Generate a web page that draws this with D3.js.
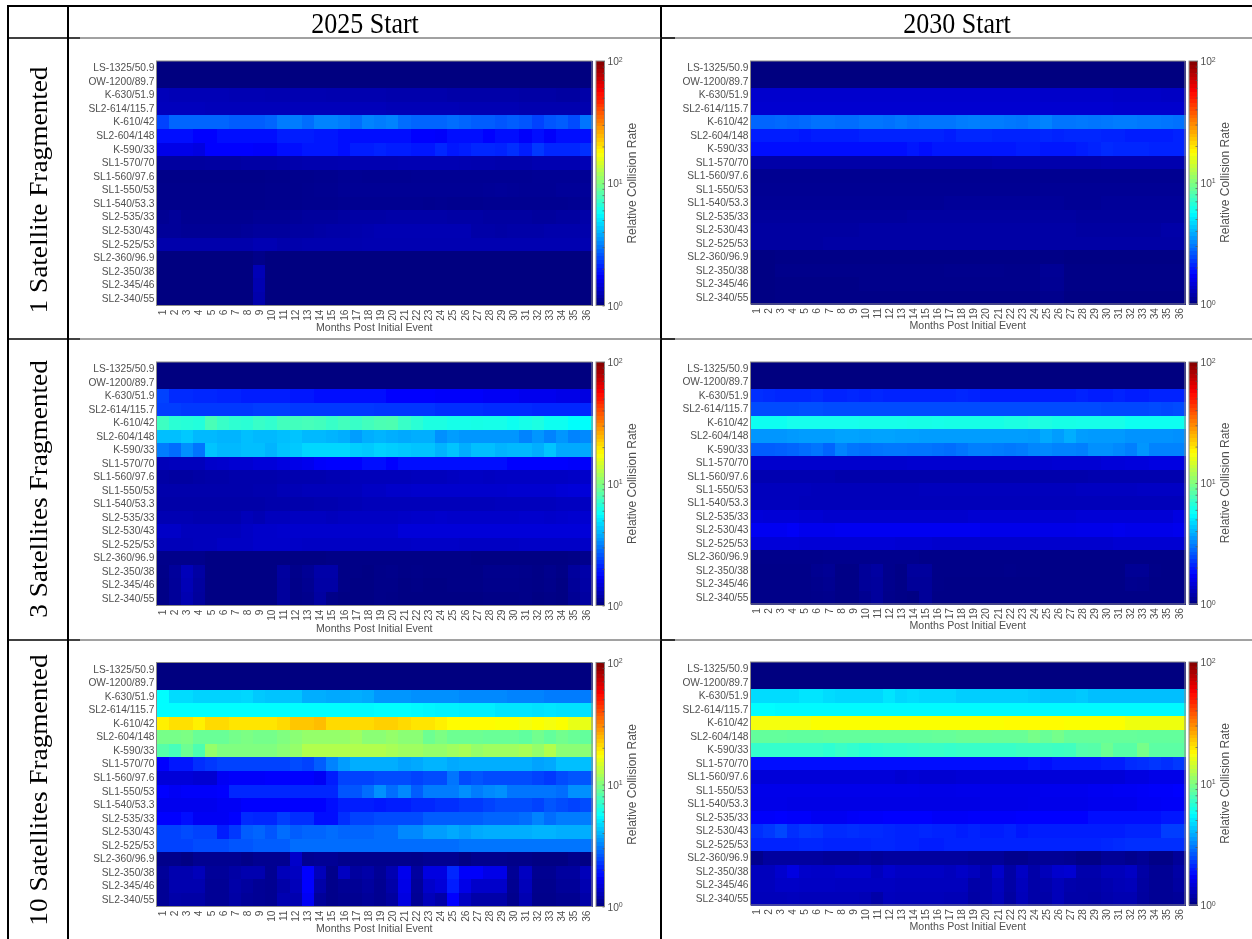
<!DOCTYPE html>
<html>
<head>
<meta charset="utf-8">
<script src="https://cdn.jsdelivr.net/npm/d3@7"></script>
<style>
  html, body { margin: 0; padding: 0; background: #fff; }
</style>
</head>
<body>
<div id="chart"></div>
<script>
// ━━━━━━━━━━━━━━━━━━━━━━━━━━━━━━━━━━━━━━━━━━━━━━━━━━━━━━━━━━━━━━━━━━━━━━━━━━━━━━━━━━━━━━
// Data (relative collision rate) /////////////////////////////////
// ━━━━━━━━━━━━━━━━━━━━━━━━━━━━━━━━━━━━━━━━━━━━━━━━━━━━━━━━━━━━━━━━━━━━━━━━━━━━━━━━━━━━━━

const shells = ['LS-1325/50.9', 'OW-1200/89.7', 'K-630/51.9', 'SL2-614/115.7', 'K-610/42', 'SL2-604/148', 'K-590/33',
  'SL1-570/70', 'SL1-560/97.6', 'SL1-550/53', 'SL1-540/53.3', 'SL2-535/33', 'SL2-530/43', 'SL2-525/53',
  'SL2-360/96.9', 'SL2-350/38', 'SL2-345/46', 'SL2-340/55'];
const months = ['1','2','3','4','5','6','7','8','9','10','11','12','13','14','15','16','17','18',
  '19','20','21','22','23','24','25','26','27','28','29','30','31','32','33','34','35','36'];
const colTitles = ['2025 Start', '2030 Start'];
const rowTitles = ['1 Satellite Fragmented', '3 Satellites Fragmented', '10 Satellites Fragmented'];

const sat1_2025 = [
[1,1,1,1,1,1, 1,1,1,1,1,1, 1,1,1,1,1,1, 1,1,1,1,1,1, 1,1,1,1,1,1, 1,1,1,1,1,1],
[1,1,1,1,1,1, 1,1,1,1,1,1, 1,1,1,1,1,1, 1,1,1,1,1,1, 1,1,1,1,1,1, 1,1,1,1,1,1],
[1.3,1.28,1.28,1.28,1.28,1.28, 1.26,1.26,1.26,1.25,1.25,1.25, 1.25,1.25,1.24,1.24,1.24,1.24, 1.24,1.22,1.22,1.22,1.22,1.22, 1.2,1.2,1.2,1.2,1.2,1.2, 1.18,1.18,1.18,1.16,1.16,1.2],
[1.32,1.32,1.32,1.32,1.3,1.3, 1.3,1.3,1.3,1.3,1.3,1.3, 1.3,1.3,1.3,1.3,1.3,1.3, 1.3,1.28,1.28,1.28,1.28,1.28, 1.28,1.26,1.26,1.26,1.26,1.26, 1.24,1.24,1.24,1.24,1.24,1.24],
[2.4,2.8,2.8,2.8,2.8,2.8, 2.7,2.7,2.7,2.8,3.1,3.1, 2.9,3.2,3.2,3.1,2.9,3.2, 3.1,3.2,2.9,2.8,2.8,2.8, 2.9,2.8,2.7,2.7,2.6,2.7, 2.6,2.4,2.6,2.7,2.5,3.0],
[1.85,1.85,1.85,1.8,1.8,1.9, 1.9,1.85,1.9,1.9,2.0,2.0, 2.0,1.95,1.95,1.9,1.9,1.85, 1.9,1.85,1.85,1.8,1.8,1.75, 1.85,1.85,1.85,1.8,1.9,1.9, 1.75,1.85,1.75,1.9,1.9,1.9],
[1.6,1.6,1.6,1.55,1.8,1.8, 1.8,1.8,1.75,1.75,1.85,1.85, 1.95,1.95,1.95,1.9,2.0,2.0, 2.05,2.0,2.0,1.95,1.95,2.1, 1.95,2.0,2.1,2.1,2.05,2.2, 2.0,2.3,2.1,2.1,2.1,2.2],
[1.15,1.15,1.15,1.15,1.16,1.16, 1.16,1.18,1.18,1.18,1.2,1.22, 1.24,1.24,1.24,1.25,1.25,1.25, 1.25,1.25,1.26,1.26,1.26,1.26, 1.26,1.25,1.24,1.24,1.22,1.22, 1.22,1.25,1.25,1.25,1.25,1.27],
[1.04,1.04,1.04,1.04,1.04,1.04, 1.04,1.04,1.04,1.05,1.05,1.06, 1.06,1.07,1.07,1.09,1.09,1.08, 1.08,1.08,1.08,1.09,1.09,1.09, 1.09,1.09,1.09,1.09,1.09,1.09, 1.09,1.1,1.1,1.1,1.1,1.1],
[1.05,1.05,1.05,1.05,1.05,1.05, 1.05,1.05,1.05,1.06,1.06,1.06, 1.07,1.08,1.08,1.1,1.1,1.1, 1.1,1.1,1.1,1.1,1.1,1.1, 1.1,1.1,1.1,1.11,1.12,1.11, 1.1,1.1,1.1,1.12,1.12,1.12],
[1.05,1.05,1.05,1.05,1.05,1.05, 1.05,1.05,1.05,1.06,1.06,1.06, 1.07,1.07,1.07,1.08,1.08,1.08, 1.08,1.08,1.08,1.08,1.07,1.08, 1.07,1.07,1.07,1.08,1.08,1.08, 1.08,1.08,1.08,1.08,1.09,1.1],
[1.09,1.12,1.08,1.08,1.08,1.08, 1.08,1.08,1.1,1.1,1.1,1.12, 1.14,1.14,1.14,1.16,1.18,1.18, 1.18,1.2,1.2,1.2,1.2,1.2, 1.18,1.18,1.18,1.16,1.16,1.16, 1.16,1.14,1.14,1.16,1.16,1.2],
[1.12,1.12,1.1,1.1,1.1,1.1, 1.1,1.12,1.14,1.14,1.14,1.16, 1.16,1.18,1.2,1.2,1.22,1.24, 1.26,1.26,1.26,1.26,1.26,1.26, 1.26,1.26,1.2,1.2,1.18,1.2, 1.2,1.2,1.22,1.22,1.22,1.22],
[1.22,1.22,1.22,1.22,1.22,1.22, 1.22,1.22,1.26,1.26,1.22,1.22, 1.24,1.24,1.24,1.24,1.24,1.25, 1.25,1.25,1.25,1.25,1.25,1.25, 1.25,1.25,1.25,1.25,1.25,1.25, 1.25,1.25,1.25,1.25,1.25,1.25],
[1,1,1,1,1,1, 1,1,1.04,1,1,1, 1,1,1,1,1,1, 1,1,1,1,1,1, 1,1,1,1,1,1, 1,1,1,1,1,1],
[1,1,1,1,1,1, 1,1,1.28,1,1,1, 1,1,1,1,1,1, 1,1,1,1,1,1, 1,1,1,1,1,1, 1,1,1,1,1,1],
[1,1,1,1,1,1, 1,1,1.25,1,1,1, 1,1,1,1,1,1, 1,1,1,1,1,1, 1,1,1,1,1,1, 1,1,1,1,1,1],
[1,1,1,1,1,1, 1,1,1.22,1,1,1, 1,1,1,1,1,1, 1,1,1,1,1,1, 1,1,1,1,1,1, 1,1,1,1,1,1]
];

const sat1_2030 = [
[1,1,1,1,1,1, 1,1,1,1,1,1, 1,1,1,1,1,1, 1,1,1,1,1,1, 1,1,1,1,1,1, 1,1,1,1,1,1],
[1,1,1,1,1,1, 1,1,1,1,1,1, 1,1,1,1,1,1, 1,1,1,1,1,1, 1,1,1,1,1,1, 1,1,1,1,1,1],
[1.42,1.42,1.42,1.42,1.42,1.42, 1.42,1.42,1.42,1.42,1.42,1.42, 1.42,1.42,1.42,1.42,1.42,1.42, 1.42,1.42,1.42,1.42,1.42,1.42, 1.4,1.4,1.4,1.4,1.4,1.4, 1.38,1.38,1.38,1.38,1.36,1.36],
[1.44,1.44,1.44,1.44,1.44,1.44, 1.44,1.44,1.44,1.44,1.44,1.44, 1.44,1.44,1.44,1.44,1.44,1.44, 1.44,1.44,1.44,1.44,1.44,1.44, 1.44,1.44,1.44,1.44,1.44,1.44, 1.42,1.42,1.42,1.42,1.42,1.42],
[2.8,2.8,2.85,2.8,2.85,2.95, 2.95,2.9,2.9,3.0,3.0,2.95, 3.05,2.95,3.0,3.0,3.0,3.1, 3.15,3.1,3.1,3.05,3.0,3.1, 3.2,3.0,3.0,3.05,3.0,3.05, 3.1,3.1,3.05,3.05,3.0,2.95],
[2.0,2.0,2.0,2.0,1.95,2.0, 2.0,2.0,2.0,2.05,2.05,2.05, 2.05,2.05,2.05,2.05,2.0,2.1, 2.1,2.1,2.05,2.05,2.05,2.05, 2.1,2.05,2.1,2.1,2.1,2.05, 2.05,2.0,2.0,2.0,2.0,2.05],
[1.85,1.85,1.85,1.85,1.85,1.85, 1.85,1.9,1.9,1.9,1.9,1.9, 1.9,1.95,1.9,1.95,1.95,1.95, 1.95,1.95,1.95,1.95,2.0,2.0, 1.95,1.95,1.95,2.0,2.05,2.15, 2.1,2.1,2.1,2.05,2.05,2.05],
[1.2,1.2,1.2,1.2,1.2,1.2, 1.2,1.2,1.2,1.2,1.2,1.2, 1.2,1.2,1.2,1.2,1.2,1.2, 1.2,1.2,1.22,1.22,1.22,1.22, 1.22,1.22,1.22,1.22,1.22,1.24, 1.24,1.24,1.24,1.24,1.24,1.24],
[1.08,1.08,1.08,1.08,1.08,1.08, 1.08,1.08,1.08,1.08,1.08,1.08, 1.08,1.08,1.08,1.08,1.08,1.08, 1.08,1.08,1.08,1.08,1.08,1.08, 1.08,1.08,1.08,1.08,1.08,1.08, 1.08,1.08,1.08,1.08,1.08,1.08],
[1.09,1.09,1.09,1.09,1.09,1.09, 1.09,1.09,1.09,1.09,1.09,1.09, 1.09,1.09,1.09,1.09,1.09,1.09, 1.09,1.09,1.09,1.09,1.09,1.09, 1.1,1.1,1.1,1.1,1.1,1.1, 1.1,1.1,1.1,1.1,1.1,1.1],
[1.1,1.1,1.1,1.1,1.1,1.1, 1.1,1.1,1.1,1.1,1.1,1.1, 1.1,1.1,1.1,1.1,1.12,1.12, 1.12,1.12,1.12,1.12,1.12,1.12, 1.12,1.12,1.1,1.1,1.1,1.12, 1.12,1.12,1.12,1.12,1.12,1.12],
[1.14,1.14,1.14,1.14,1.14,1.14, 1.14,1.14,1.14,1.14,1.14,1.14, 1.14,1.16,1.16,1.16,1.16,1.16, 1.16,1.16,1.16,1.16,1.16,1.16, 1.16,1.16,1.16,1.14,1.14,1.14, 1.14,1.14,1.14,1.14,1.14,1.14],
[1.16,1.16,1.16,1.16,1.16,1.16, 1.16,1.16,1.16,1.18,1.18,1.18, 1.18,1.18,1.18,1.18,1.18,1.18, 1.18,1.18,1.18,1.18,1.18,1.18, 1.18,1.18,1.18,1.16,1.16,1.16, 1.16,1.16,1.16,1.16,1.2,1.2],
[1.16,1.16,1.16,1.16,1.16,1.16, 1.18,1.18,1.18,1.18,1.18,1.18, 1.18,1.18,1.18,1.18,1.18,1.18, 1.18,1.18,1.18,1.18,1.18,1.18, 1.18,1.18,1.18,1.18,1.18,1.18, 1.18,1.18,1.18,1.18,1.18,1.18],
[1.02,1.02,1.03,1.03,1.03,1.03, 1.03,1.03,1.03,1.03,1.03,1.03, 1.03,1.03,1.03,1.03,1.03,1.03, 1.03,1.03,1.03,1.03,1.03,1.03, 1.03,1.03,1.02,1.02,1.02,1.02, 1.02,1.02,1.02,1.02,1.02,1.02],
[1.02,1.02,1.05,1.05,1.05,1.05, 1.05,1.05,1.05,1.05,1.05,1.05, 1.05,1.05,1.05,1.05,1.06,1.06, 1.06,1.06,1.06,1.05,1.05,1.05, 1.1,1.1,1.03,1.03,1.03,1.03, 1.03,1.03,1.03,1.03,1.03,1.03],
[1.02,1.02,1.03,1.03,1.03,1.03, 1.03,1.03,1.03,1.05,1.05,1.05, 1.05,1.05,1.05,1.05,1.05,1.05, 1.05,1.05,1.05,1.05,1.05,1.05, 1.09,1.09,1.03,1.03,1.03,1.03, 1.03,1.03,1.03,1.03,1.03,1.03],
[1.02,1.02,1.03,1.03,1.03,1.03, 1.03,1.03,1.03,1.03,1.03,1.03, 1.03,1.03,1.03,1.03,1.03,1.03, 1.03,1.03,1.03,1.03,1.03,1.03, 1.06,1.06,1.02,1.02,1.02,1.02, 1.02,1.02,1.02,1.02,1.02,1.02]
];

const sat3_2025 = [
[1,1,1,1,1,1, 1,1,1,1,1,1, 1,1,1,1,1,1, 1,1,1,1,1,1, 1,1,1,1,1,1, 1,1,1,1,1,1],
[1,1,1,1,1,1, 1,1,1,1,1,1, 1,1,1,1,1,1, 1,1,1,1,1,1, 1,1,1,1,1,1, 1,1,1,1,1,1],
[2.4,2.15,2.15,2.1,2.1,2.05, 2.05,2.0,2.0,2.0,2.0,1.95, 1.95,1.9,1.9,1.85,1.85,1.85, 1.85,1.8,1.8,1.8,1.8,1.75, 1.75,1.75,1.75,1.7,1.7,1.7, 1.65,1.65,1.65,1.6,1.6,1.55],
[2.35,2.35,2.3,2.3,2.3,2.3, 2.3,2.3,2.35,2.35,2.35,2.3, 2.3,2.3,2.3,2.3,2.3,2.3, 2.25,2.25,2.25,2.25,2.25,2.2, 2.2,2.2,2.2,2.15,2.15,2.15, 2.15,2.1,2.1,2.1,2.1,2.1],
[7.4,6.8,6.7,6.6,7.8,7.2, 6.9,6.8,7.2,7.0,7.6,7.6, 7.7,7.6,7.2,7.6,7.2,7.6, 7.9,8.0,7.2,6.8,6.4,6.4, 6.2,6.2,6.3,6.2,6.2,6.0, 6.2,6.4,6.0,6.0,5.7,5.7],
[4.2,4.2,4.4,4.1,4.1,4.0, 4.0,4.2,4.1,4.1,4.2,4.3, 4.1,4.1,4.0,3.9,3.6,3.9, 4.0,3.9,3.8,3.9,3.9,3.4, 3.6,3.5,3.5,3.5,3.5,3.5, 3.2,3.5,3.2,3.5,3.2,3.3],
[3.1,2.9,3.4,3.0,4.3,4.1, 4.1,4.2,4.2,4.0,4.3,4.4, 4.7,4.7,4.7,4.7,4.5,4.4, 4.6,4.5,4.4,4.3,4.3,4.0, 4.3,3.9,4.2,4.2,4.0,4.1, 4.1,3.9,4.3,3.8,3.8,3.8],
[1.3,1.32,1.32,1.32,1.4,1.42, 1.45,1.45,1.5,1.5,1.55,1.6, 1.65,1.75,1.8,1.8,1.8,1.85, 1.85,1.8,1.85,1.9,1.9,1.85, 1.85,1.85,1.85,1.85,1.85,1.8, 1.8,1.8,1.8,1.8,1.75,1.75],
[1.18,1.16,1.16,1.18,1.2,1.2, 1.22,1.22,1.22,1.22,1.24,1.24, 1.24,1.24,1.26,1.26,1.3,1.3, 1.3,1.3,1.3,1.32,1.32,1.32, 1.34,1.36,1.36,1.34,1.36,1.36, 1.36,1.36,1.36,1.36,1.38,1.4],
[1.22,1.22,1.22,1.22,1.22,1.22, 1.22,1.22,1.24,1.24,1.28,1.28, 1.3,1.3,1.3,1.3,1.32,1.36, 1.36,1.4,1.4,1.42,1.42,1.42, 1.42,1.42,1.42,1.42,1.42,1.44, 1.44,1.44,1.44,1.48,1.5,1.5],
[1.2,1.2,1.2,1.2,1.2,1.2, 1.2,1.2,1.2,1.22,1.22,1.22, 1.22,1.24,1.24,1.26,1.28,1.3, 1.3,1.3,1.3,1.3,1.3,1.3, 1.3,1.3,1.3,1.3,1.32,1.32, 1.32,1.32,1.32,1.34,1.34,1.34],
[1.26,1.26,1.26,1.24,1.24,1.24, 1.24,1.3,1.26,1.32,1.32,1.34, 1.34,1.34,1.32,1.34,1.36,1.36, 1.36,1.36,1.38,1.4,1.4,1.42, 1.4,1.4,1.4,1.4,1.4,1.4, 1.42,1.42,1.4,1.42,1.44,1.44],
[1.38,1.38,1.32,1.32,1.32,1.32, 1.32,1.36,1.4,1.4,1.42,1.42, 1.42,1.42,1.42,1.42,1.42,1.42, 1.42,1.42,1.5,1.5,1.5,1.5, 1.5,1.5,1.5,1.5,1.5,1.5, 1.5,1.5,1.5,1.5,1.5,1.5],
[1.3,1.3,1.3,1.32,1.32,1.36, 1.36,1.36,1.4,1.4,1.4,1.38, 1.36,1.36,1.36,1.36,1.36,1.36, 1.36,1.36,1.36,1.38,1.38,1.38, 1.38,1.36,1.36,1.36,1.36,1.36, 1.38,1.38,1.38,1.38,1.38,1.38],
[1.05,1.05,1.05,1.05,1.02,1.02, 1.02,1.02,1.02,1.02,1.02,1.02, 1.02,1.02,1.03,1.03,1.03,1.03, 1.03,1.03,1.03,1.03,1.03,1.03, 1.03,1.03,1.02,1.02,1.02,1.02, 1.02,1.02,1.02,1.02,1.03,1.06],
[1.04,1.13,1.3,1.17,1.02,1.02, 1.02,1.02,1.02,1.02,1.15,1.05, 1.1,1.2,1.2,1.03,1.03,1.02, 1.04,1.05,1.03,1.04,1.03,1.03, 1.03,1.03,1.03,1.06,1.06,1.06, 1.05,1.03,1.06,1.03,1.14,1.2],
[1.03,1.12,1.28,1.15,1.02,1.02, 1.02,1.02,1.02,1.02,1.14,1.04, 1.08,1.18,1.18,1.03,1.02,1.02, 1.04,1.04,1.02,1.03,1.02,1.02, 1.03,1.03,1.03,1.05,1.05,1.05, 1.04,1.03,1.05,1.02,1.12,1.18],
[1.03,1.12,1.25,1.14,1.02,1.02, 1.02,1.02,1.02,1.02,1.14,1.04, 1.06,1.16,1.04,1.02,1.02,1.02, 1.04,1.03,1.02,1.02,1.02,1.02, 1.02,1.02,1.02,1.03,1.03,1.03, 1.04,1.02,1.03,1.02,1.1,1.16]
];

const sat3_2030 = [
[1,1,1,1,1,1, 1,1,1,1,1,1, 1,1,1,1,1,1, 1,1,1,1,1,1, 1,1,1,1,1,1, 1,1,1,1,1,1],
[1,1,1,1,1,1, 1,1,1,1,1,1, 1,1,1,1,1,1, 1,1,1,1,1,1, 1,1,1,1,1,1, 1,1,1,1,1,1],
[2.2,2.15,2.1,2.1,2.1,2.15, 2.05,2.05,2.1,2.05,2.1,2.05, 2.05,2.05,2.05,2.05,2.05,2.1, 2.05,2.0,2.0,2.0,2.0,2.0, 2.0,2.0,2.0,2.05,2.0,2.0, 2.05,2.0,2.0,2.05,2.05,2.05],
[2.5,2.5,2.5,2.5,2.55,2.55, 2.5,2.5,2.5,2.5,2.5,2.5, 2.5,2.5,2.5,2.5,2.5,2.5, 2.5,2.5,2.5,2.5,2.5,2.5, 2.5,2.5,2.5,2.5,2.5,2.45, 2.45,2.45,2.45,2.5,2.45,2.5],
[6.0,6.0,6.0,6.1,6.1,6.1, 6.1,6.1,6.1,6.2,6.2,6.2, 6.2,6.3,6.3,6.2,6.3,6.3, 6.3,6.3,6.3,6.4,6.4,6.5, 6.4,6.3,6.3,6.2,6.2,6.2, 6.2,6.0,6.0,6.0,6.0,6.0],
[3.5,3.5,3.5,3.55,3.6,3.6, 3.6,3.7,3.7,3.65,3.7,3.7, 3.65,3.65,3.6,3.6,3.6,3.6, 3.6,3.6,3.6,3.6,3.6,3.55, 3.8,3.6,3.9,3.6,3.55,3.55, 3.55,3.45,3.45,3.45,3.45,3.4],
[2.7,2.7,2.75,2.8,2.9,3.0, 2.8,3.2,3.0,2.95,3.0,3.05, 3.05,3.0,3.0,2.95,2.9,3.0, 3.15,3.15,3.1,3.05,3.1,3.25, 3.3,3.2,3.2,3.15,3.4,3.4, 3.3,3.15,3.5,3.2,3.2,3.2],
[1.42,1.42,1.42,1.42,1.42,1.42, 1.42,1.42,1.42,1.42,1.42,1.42, 1.42,1.44,1.44,1.44,1.44,1.44, 1.44,1.44,1.44,1.44,1.44,1.44, 1.44,1.46,1.46,1.46,1.46,1.5, 1.5,1.52,1.52,1.55,1.55,1.55],
[1.25,1.25,1.25,1.25,1.25,1.25, 1.25,1.22,1.22,1.22,1.22,1.22, 1.22,1.22,1.22,1.22,1.22,1.22, 1.22,1.22,1.22,1.22,1.22,1.22, 1.22,1.22,1.22,1.22,1.24,1.24, 1.24,1.24,1.24,1.24,1.24,1.24],
[1.32,1.32,1.32,1.32,1.32,1.3, 1.3,1.3,1.3,1.3,1.3,1.3, 1.3,1.3,1.32,1.32,1.32,1.32, 1.32,1.32,1.32,1.32,1.32,1.32, 1.32,1.32,1.32,1.34,1.34,1.34, 1.34,1.34,1.36,1.36,1.36,1.36],
[1.32,1.32,1.32,1.32,1.3,1.3, 1.3,1.3,1.3,1.3,1.3,1.3, 1.3,1.3,1.3,1.3,1.3,1.3, 1.3,1.3,1.3,1.3,1.3,1.3, 1.3,1.3,1.3,1.3,1.3,1.3, 1.3,1.3,1.3,1.3,1.3,1.3],
[1.5,1.48,1.48,1.48,1.45,1.45, 1.42,1.42,1.42,1.42,1.42,1.42, 1.42,1.42,1.42,1.42,1.42,1.42, 1.45,1.45,1.45,1.45,1.45,1.45, 1.45,1.45,1.45,1.48,1.48,1.48, 1.48,1.48,1.48,1.48,1.48,1.55],
[1.68,1.68,1.68,1.72,1.65,1.65, 1.65,1.68,1.68,1.68,1.68,1.68, 1.68,1.68,1.68,1.68,1.68,1.68, 1.68,1.62,1.62,1.62,1.62,1.62, 1.6,1.6,1.6,1.62,1.62,1.62, 1.65,1.62,1.62,1.62,1.62,1.65],
[1.5,1.5,1.5,1.5,1.48,1.48, 1.48,1.48,1.48,1.48,1.48,1.48, 1.45,1.45,1.45,1.42,1.42,1.42, 1.42,1.42,1.42,1.42,1.42,1.42, 1.42,1.42,1.42,1.42,1.42,1.42, 1.45,1.45,1.45,1.45,1.45,1.45],
[1.05,1.05,1.05,1.05,1.05,1.05, 1.06,1.06,1.06,1.06,1.06,1.06, 1.06,1.06,1.04,1.04,1.04,1.04, 1.04,1.04,1.04,1.04,1.04,1.04, 1.03,1.03,1.03,1.03,1.03,1.03, 1.03,1.03,1.03,1.03,1.03,1.03],
[1.04,1.04,1.04,1.04,1.04,1.08, 1.1,1.03,1.03,1.12,1.16,1.06, 1.03,1.14,1.14,1.04,1.04,1.04, 1.04,1.04,1.04,1.05,1.04,1.04, 1.03,1.03,1.03,1.03,1.03,1.03, 1.03,1.1,1.1,1.04,1.03,1.03],
[1.04,1.04,1.04,1.04,1.04,1.06, 1.08,1.03,1.03,1.12,1.14,1.06, 1.03,1.12,1.12,1.04,1.03,1.03, 1.03,1.03,1.03,1.03,1.03,1.03, 1.03,1.03,1.03,1.03,1.03,1.03, 1.03,1.07,1.06,1.03,1.03,1.03],
[1.04,1.04,1.04,1.04,1.04,1.05, 1.06,1.03,1.03,1.08,1.14,1.05, 1.03,1.02,1.12,1.03,1.03,1.03, 1.03,1.03,1.03,1.03,1.03,1.03, 1.03,1.03,1.03,1.03,1.03,1.03, 1.03,1.03,1.03,1.03,1.03,1.03]
];

const sat10_2025 = [
[1,1,1,1,1,1, 1,1,1,1,1,1, 1,1,1,1,1,1, 1,1,1,1,1,1, 1,1,1,1,1,1, 1,1,1,1,1,1],
[1,1,1,1,1,1, 1,1,1,1,1,1, 1,1,1,1,1,1, 1,1,1,1,1,1, 1,1,1,1,1,1, 1,1,1,1,1,1],
[5.6,4.8,4.8,4.6,4.6,4.6, 4.6,4.7,4.4,4.3,4.3,4.3, 3.9,3.9,3.8,3.8,3.9,3.8, 3.5,3.5,3.5,3.4,3.4,3.4, 3.4,3.3,3.3,3.3,3.3,3.2, 3.2,3.2,3.1,3.1,3.1,3.1],
[5.6,5.6,5.6,5.6,5.6,5.6, 5.6,5.6,5.6,5.6,5.6,5.6, 5.6,5.6,5.6,5.6,5.5,5.5, 5.6,5.6,5.6,5.5,5.4,5.3, 5.3,5.2,5.2,5.2,5.0,5.0, 5.0,4.9,5.0,4.9,4.9,4.9],
[19,20.5,20.5,19,21,21, 20,20,20,20,21,23, 23,24,21,21,21,21, 22,22,21,20,20,19, 18,18,18,18,17.5,17.5, 17,17.5,17,17.5,16,16],
[9.6,9.6,9.8,9,9,9, 9.5,9.8,9.5,9.5,10,10.5, 11,11,11,11,11.5,10.5, 10.5,11,10.5,10.5,9.2,9.8, 9.2,9.2,9.2,9,9,9, 8.7,9.4,8.8,9.4,9,8.8],
[8.3,7.7,9.2,8,11,10, 10,10,10,10,10.5,11, 12.5,12.5,12.5,12.5,12.5,12.5, 12.5,12,11.5,11.5,11,11, 11.5,12,11,11.5,11.5,11.5, 12,11,12.5,10.5,10.5,10.5],
[1.8,1.95,1.95,2.2,2.3,2.4, 2.4,2.4,2.4,2.4,2.4,2.5, 2.4,2.7,3.2,3.6,3.9,3.9, 3.9,3.9,3.7,3.8,4,4, 3.8,3.9,3.9,3.9,3.9,3.9, 3.9,3.7,3.8,4.2,4.2,4.2],
[1.5,1.5,1.5,1.45,1.45,1.7, 1.75,1.75,1.75,1.8,1.8,1.8, 1.8,1.7,2,2.4,2.4,2.4, 2.5,2.5,2.5,2.4,2.5,2.5, 3,2.5,2.6,2.5,2.5,2.5, 2.5,2.4,2.3,2.5,2.6,2.6],
[1.8,1.7,1.75,1.75,1.75,1.8, 2.1,2.1,2.1,2.1,2.1,2.1, 2.1,2.1,2.1,2.6,2.6,2.9, 3.4,2.9,3.3,2.7,3.1,3.1, 3.1,3.4,3.1,3.3,3.4,3.0, 3.0,3.0,3.0,2.9,3.4,3.4],
[1.65,1.65,1.65,1.65,1.65,1.7, 1.7,1.8,1.8,1.8,1.8,1.8, 1.8,1.8,1.85,2,2,2, 1.95,2,2,2.1,2.1,2.2, 2.2,2.3,2.3,2.4,2.5,2.5, 2.5,2.4,2.6,2.5,2.4,2.5],
[1.8,1.8,1.85,1.7,1.7,1.7, 1.8,2.15,2.1,2.1,2.35,2.2, 2.2,1.85,1.85,2.2,2.4,2.4, 2.5,2.5,2.5,2.5,2.7,2.7, 2.7,2.7,2.7,2.8,2.8,2.8, 2.9,3.2,2.9,3.1,3.1,3.1],
[2.4,2.4,2.5,2.4,2.4,2.0, 2.3,2.7,2.8,2.6,2.9,2.7, 2.8,2.8,2.9,2.8,2.8,2.8, 2.9,2.9,3.3,3.3,3.6,3.6, 3.8,3.6,3.8,3.9,3.9,3.9, 3.9,4,4,3.9,3.9,3.9],
[2.4,2.4,2.4,2.5,2.5,2.5, 2.6,2.6,2.7,2.7,2.7,2.9, 2.9,2.9,2.9,2.9,2.9,2.9, 2.9,2.9,2.9,2.9,2.9,2.9, 2.9,3,3,3,3,3, 3,3,3,3,3,3],
[1.05,1.05,1.02,1.08,1.08,1.08, 1.08,1.04,1.08,1.08,1.08,1.4, 1.08,1.1,1.1,1.06,1.06,1.06, 1.06,1.06,1.06,1.05,1.08,1.08, 1.08,1.02,1.06,1.06,1.06,1.04, 1.04,1.02,1.02,1.02,1.06,1.02],
[1.12,1.24,1.24,1.3,1.12,1.12, 1.18,1.24,1.24,1.08,1.3,1.34, 1.8,1.3,1.05,1.34,1.15,1.2, 1.1,1.25,1.65,1.15,1.55,1.55, 2.1,1.75,1.75,1.6,1.6,1.1, 1.35,1.08,1.08,1.15,1.15,1.3],
[1.1,1.24,1.24,1.24,1.1,1.1, 1.2,1.15,1.1,1.08,1.2,1.3, 1.8,1.2,1.05,1.1,1.1,1.15, 1.08,1.2,1.6,1.12,1.4,1.5, 2,1.6,1.4,1.4,1.4,1.08, 1.3,1.06,1.06,1.12,1.12,1.25],
[1.1,1.2,1.18,1.18,1.1,1.1, 1.18,1.12,1.1,1.08,1.25,1.24, 1.7,1.12,1.05,1.08,1.08,1.12, 1.08,1.15,1.55,1.1,1.3,1.2, 1.8,1.35,1.2,1.2,1.2,1.06, 1.25,1.05,1.05,1.08,1.08,1.2]
];

const sat10_2030 = [
[1,1,1,1,1,1, 1,1,1,1,1,1, 1,1,1,1,1,1, 1,1,1,1,1,1, 1,1,1,1,1,1, 1,1,1,1,1,1],
[1,1,1,1,1,1, 1,1,1,1,1,1, 1,1,1,1,1,1, 1,1,1,1,1,1, 1,1,1,1,1,1, 1,1,1,1,1,1],
[4.8,4.8,4.8,4.8,5,5, 4.8,4.7,4.7,4.7,4.7,5, 4.7,4.8,4.7,4.7,4.7,4.5, 4.5,4.5,4.5,4.5,4.5,4.4, 4.3,4.3,4.3,4.4,4.2,4.2, 4.2,4.2,4.2,4.2,4.2,4.2],
[5.6,5.6,5.5,5.5,5.5,5.5, 5.5,5.5,5.5,5.5,5.5,5.5, 5.5,5.5,5.5,5.5,5.5,5.5, 5.5,5.5,5.5,5.5,5.5,5.5, 5.5,5.5,5.5,5.5,5.5,5.5, 5.5,5.5,5.5,5.5,5.5,5.5],
[17,17,17,17,17,17.5, 17.5,17.5,17.5,17.5,17.5,17.5, 17.5,17.5,17.5,17.5,17.5,17.5, 17.5,17.5,17.5,18,18,18, 18,18,17.5,17.5,17.5,17.5, 17.5,16.5,16.5,16.5,16.5,16.5],
[8.8,8.8,8.8,8.7,8.7,8.7, 8.8,8.8,8.8,8.8,8.8,8.8, 8.8,8.8,8.8,8.9,8.9,9.1, 9.1,9.1,9,9,9,9.6, 9,9.5,8.9,8.9,8.9,8.9, 8.9,8.9,8.8,8.8,8.8,8.8],
[7.1,7.1,7.1,7.1,7.1,7.1, 6.9,7.2,7.0,6.8,6.9,7.0, 7.0,7.1,7.2,7.2,7.1,7.2, 7.2,7.2,7.2,7.2,7.4,7.4, 7.5,7.4,7.5,8.2,8.3,9.2, 8.4,8.4,9.6,8.5,8.5,8.5],
[1.85,1.85,1.85,1.85,1.85,1.85, 1.85,1.85,1.85,1.85,1.85,1.85, 1.85,1.85,1.85,1.85,1.85,1.85, 1.85,1.85,1.85,1.85,1.9,1.95, 1.9,1.95,1.95,1.95,1.95,2, 2,2.15,2.2,2.25,2.2,2.3],
[1.5,1.5,1.5,1.5,1.5,1.5, 1.5,1.5,1.5,1.5,1.5,1.5, 1.45,1.48,1.45,1.45,1.45,1.48, 1.48,1.5,1.5,1.5,1.5,1.5, 1.5,1.5,1.5,1.5,1.5,1.5, 1.5,1.55,1.55,1.6,1.6,1.6],
[1.62,1.62,1.62,1.62,1.62,1.62, 1.62,1.62,1.62,1.62,1.62,1.62, 1.62,1.62,1.6,1.6,1.6,1.62, 1.62,1.62,1.62,1.62,1.62,1.62, 1.65,1.65,1.65,1.65,1.68,1.68, 1.7,1.7,1.72,1.75,1.75,1.78],
[1.6,1.6,1.6,1.58,1.58,1.58, 1.58,1.58,1.58,1.58,1.58,1.58, 1.58,1.58,1.58,1.58,1.58,1.58, 1.58,1.6,1.6,1.6,1.6,1.62, 1.62,1.62,1.62,1.62,1.65,1.65, 1.65,1.65,1.7,1.7,1.72,1.72],
[1.75,1.75,1.78,1.75,1.75,1.68, 1.68,1.68,1.72,1.75,1.75,1.78, 1.78,1.78,1.78,1.72,1.72,1.72, 1.75,1.75,1.75,1.75,1.78,1.78, 1.8,1.8,1.82,1.82,1.85,1.85, 1.85,1.85,1.85,1.88,1.95,1.95],
[2.2,2.3,2.45,2.2,2.3,2.25, 2.15,2.15,2.2,2.15,2.15,2.1, 2.05,2.05,2.1,2.05,2.05,2, 2.05,2,2,2.05,1.98,2, 2,2,2,2,2,2, 2,2.05,2.05,2.05,2.35,2.35],
[2.05,2.05,2.05,2.05,2.1,2.1, 2.05,2.05,2.05,2.05,2.1,2.1, 2.05,2.05,2,2,2.05,2.05, 2.05,2.05,2.05,2.05,2.05,2.05, 2.05,2.05,2.05,2.05,2.05,2.1, 2.15,2.2,2.2,2.2,2.2,2.2],
[1.06,1.15,1.15,1.15,1.15,1.15, 1.12,1.12,1.12,1.15,1.12,1.15, 1.15,1.15,1.15,1.15,1.15,1.15, 1.12,1.12,1.12,1.06,1.06,1.1, 1.1,1.1,1.08,1.03,1.03,1.1, 1.1,1.06,1.1,1.03,1.03,1.12],
[1.32,1.32,1.42,1.55,1.4,1.38, 1.38,1.42,1.42,1.42,1.32,1.42, 1.36,1.36,1.36,1.36,1.32,1.38, 1.32,1.22,1.4,1.18,1.36,1.2, 1.3,1.42,1.45,1.22,1.22,1.3, 1.3,1.36,1.18,1.1,1.1,1.18],
[1.32,1.32,1.38,1.38,1.36,1.36, 1.36,1.34,1.34,1.34,1.34,1.34, 1.32,1.32,1.32,1.32,1.32,1.32, 1.2,1.22,1.32,1.18,1.32,1.2, 1.22,1.3,1.22,1.2,1.2,1.24, 1.28,1.3,1.16,1.1,1.1,1.16],
[1.3,1.3,1.3,1.32,1.3,1.3, 1.3,1.3,1.3,1.28,1.2,1.32, 1.3,1.3,1.3,1.3,1.28,1.28, 1.18,1.22,1.3,1.16,1.3,1.2, 1.2,1.3,1.2,1.2,1.18,1.22, 1.25,1.25,1.15,1.1,1.1,1.12]
];

// ━━━━━━━━━━━━━━━━━━━━━━━━━━━━━━━━━━━━━━━━━━━━━━━━━━━━━━━━━━━━━━━━━━━━━━━━━━━━━━━━━━━━━━
// SVG setup ////////////////////////////////////////////////////////////////////////////
// ━━━━━━━━━━━━━━━━━━━━━━━━━━━━━━━━━━━━━━━━━━━━━━━━━━━━━━━━━━━━━━━━━━━━━━━━━━━━━━━━━━━━━━

const width = 1252, height = 939;

const svg = d3.select('#chart').append('svg')
  .attr('width', width)
  .attr('height', height)
  .attr('viewBox', [0, 0, width, height])
  .style('display', 'block');

const grey = '#505050';
const sans = '"Liberation Sans", Arial, sans-serif';
const serif = '"Liberation Serif", "Times New Roman", serif';

// the reference is a pasted, slightly resampled figure
const defs = svg.append('defs');
const soft = (id, dev) => defs.append('filter')
  .attr('id', id)
  .attr('filterUnits', 'userSpaceOnUse')
  .attr('x', 0).attr('y', 0).attr('width', width).attr('height', height)
  .append('feGaussianBlur').attr('stdDeviation', dev);
soft('soft-panel', 0.4);
soft('soft-title', 0.25);

// jet colormap on a log scale from 1 to 100
const jet = ['#000080', '#0000ff', '#0080ff', '#00ffff', '#80ff80', '#ffff00', '#ff8000', '#ff0000', '#800000'];
const color = d3.scaleSequentialLog().domain([1, 100]).interpolator(d3.piecewise(d3.interpolateRgb, jet));

const panels = [
  { vals: sat1_2025,  x0: 156.5, x1: 592,  y0: 61,    y1: 305.5, title: 327 },
  { vals: sat1_2030,  x0: 750.5, x1: 1185, y0: 61,    y1: 304,   title: 325 },
  { vals: sat3_2025,  x0: 156.5, x1: 592,  y0: 362,   y1: 605.5, title: 628 },
  { vals: sat3_2030,  x0: 750.5, x1: 1185, y0: 362,   y1: 604,   title: 625 },
  { vals: sat10_2025, x0: 156.5, x1: 592,  y0: 662.5, y1: 906.5, title: 928 },
  { vals: sat10_2030, x0: 750.5, x1: 1185, y0: 662,   y1: 905,   title: 926 }
];

// ━━━━━━━━━━━━━━━━━━━━━━━━━━━━━━━━━━━━━━━━━━━━━━━━━━━━━━━━━━━━━━━━━━━━━━━━━━━━━━━━━━━━━━
// Heatmap panels ///////////////////////////////////////////////////////////////////////
// ━━━━━━━━━━━━━━━━━━━━━━━━━━━━━━━━━━━━━━━━━━━━━━━━━━━━━━━━━━━━━━━━━━━━━━━━━━━━━━━━━━━━━━

panels.forEach(p => {
  const g = svg.append('g').attr('class', 'panel').attr('filter', 'url(#soft-panel)');
  const x = d3.scaleBand().domain(months).range([p.x0, p.x1]);
  const y = d3.scaleBand().domain(shells).range([p.y0, p.y1]);

  const cells = p.vals.flatMap((row, i) => row.map((v, j) => ({ shell: shells[i], month: months[j], v })));

  g.append('g').attr('shape-rendering', 'crispEdges').selectAll('rect')
    .data(cells)
    .join('rect')
    .attr('x', d => x(d.month))
    .attr('y', d => y(d.shell))
    .attr('width', x.bandwidth() + 0.5)
    .attr('height', y.bandwidth() + 0.5)
    .attr('fill', d => color(d.v));

  g.append('rect')
    .attr('x', p.x0).attr('y', p.y0)
    .attr('width', p.x1 - p.x0).attr('height', p.y1 - p.y0)
    .attr('fill', 'none').attr('stroke', '#8a8a8a').attr('stroke-width', 1);

  const yAxis = g.append('g')
    .attr('transform', `translate(${p.x0 - 1},0)`)
    .call(d3.axisLeft(y).tickSize(0).tickPadding(1));
  yAxis.select('.domain').remove();
  yAxis.selectAll('text').attr('fill', grey).style('font', `10.2px ${sans}`);

  const xAxis = g.append('g')
    .attr('transform', `translate(0,${p.y1 + 1})`)
    .call(d3.axisBottom(x).tickSize(0).tickPadding(0));
  xAxis.select('.domain').remove();
  xAxis.selectAll('text')
    .attr('fill', grey)
    .style('font', `10.2px ${sans}`)
    .attr('text-anchor', 'end')
    .attr('dy', '0.35em')
    .attr('transform', 'translate(0,3) rotate(-90)')
    .attr('y', 0);

  g.append('text')
    .attr('x', (p.x0 + p.x1) / 2)
    .attr('y', p.title + 4)
    .attr('text-anchor', 'middle')
    .attr('fill', grey)
    .style('font', `10.6px ${sans}`)
    .text('Months Post Initial Event');

  // colorbar
  const cbX = p.x1 + 4, cbW = 8.5;
  const cbScale = d3.scaleLog().domain([1, 100]).range([p.y1, p.y0]);
  const levels = d3.range(64);
  const levelH = (p.y1 - p.y0) / 64;

  g.append('g').attr('shape-rendering', 'crispEdges').selectAll('rect')
    .data(levels)
    .join('rect')
    .attr('x', cbX)
    .attr('y', d => p.y1 - (d + 1) * levelH)
    .attr('width', cbW)
    .attr('height', levelH + 0.5)
    .attr('fill', d => color(cbScale.invert(p.y1 - (d + 0.5) * levelH)));

  g.append('rect')
    .attr('x', cbX).attr('y', p.y0)
    .attr('width', cbW).attr('height', p.y1 - p.y0)
    .attr('fill', 'none').attr('stroke', '#8a8a8a');

  const minor = [1, 2, 3, 4, 5, 6, 7, 8, 9, 10, 20, 30, 40, 50, 60, 70, 80, 90, 100];
  const cbAxis = g.append('g')
    .attr('transform', `translate(${cbX + cbW},0)`)
    .call(d3.axisLeft(cbScale).tickValues(minor).tickSize(2).tickFormat(''));
  cbAxis.select('.domain').remove();
  cbAxis.selectAll('line').attr('stroke', '#555').attr('stroke-width', 0.7);

  const powers = g.append('g').selectAll('text')
    .data([0, 1, 2])
    .join('text')
    .attr('x', cbX + cbW + 3)
    .attr('y', d => cbScale(Math.pow(10, d)) + 4)
    .attr('fill', grey)
    .style('font', `10.2px ${sans}`);
  powers.append('tspan').text('10');
  powers.append('tspan').attr('dy', -3.5).style('font-size', '7px').text(d => d);

  const cx = cbX + cbW + 31, cy = (p.y0 + p.y1) / 2;
  g.append('text')
    .attr('transform', `translate(${cx},${cy}) rotate(-90)`)
    .attr('text-anchor', 'middle')
    .attr('fill', grey)
    .style('font', `12px ${sans}`)
    .text('Relative Collision Rate');
});

// ━━━━━━━━━━━━━━━━━━━━━━━━━━━━━━━━━━━━━━━━━━━━━━━━━━━━━━━━━━━━━━━━━━━━━━━━━━━━━━━━━━━━━━
// Table frame and headers //////////////////////////////////////////////////////////////
// ━━━━━━━━━━━━━━━━━━━━━━━━━━━━━━━━━━━━━━━━━━━━━━━━━━━━━━━━━━━━━━━━━━━━━━━━━━━━━━━━━━━━━━

const frame = svg.append('g').attr('id', 'frame');
const rule = (x1, y1, x2, y2, stroke, w) => frame.append('line')
  .attr('x1', x1).attr('y1', y1).attr('x2', x2).attr('y2', y2)
  .attr('stroke', stroke).attr('stroke-width', w);

rule(8, 6, 1252, 6, '#000', 2);
[8, 68, 661].forEach(x => rule(x, 5, x, 939, '#000', 2));
[38, 339, 640].forEach(y => {
  rule(8, y, 80, y, '#000', 1.6);
  rule(80, y, 1252, y, '#444', 1);
  rule(661, y, 675, y, '#000', 1.4);
});

const titles = svg.append('g').attr('id', 'titles').attr('filter', 'url(#soft-title)');

titles.selectAll('.col-title')
  .data(colTitles)
  .join('text')
  .attr('class', 'col-title')
  .attr('transform', (d, i) => `translate(${[365, 957][i]},33) scale(1,1.1)`)
  .attr('text-anchor', 'middle')
  .attr('fill', '#000')
  .style('font', `26px ${serif}`)
  .text(d => d);

titles.selectAll('.row-title')
  .data(rowTitles)
  .join('text')
  .attr('class', 'row-title')
  .attr('transform', (d, i) => `translate(47,${[190, 489, 790][i]}) rotate(-90) scale(1.05,1)`)
  .attr('text-anchor', 'middle')
  .attr('fill', '#000')
  .style('font', `26px ${serif}`)
  .text(d => d);
</script>
</body>
</html>
